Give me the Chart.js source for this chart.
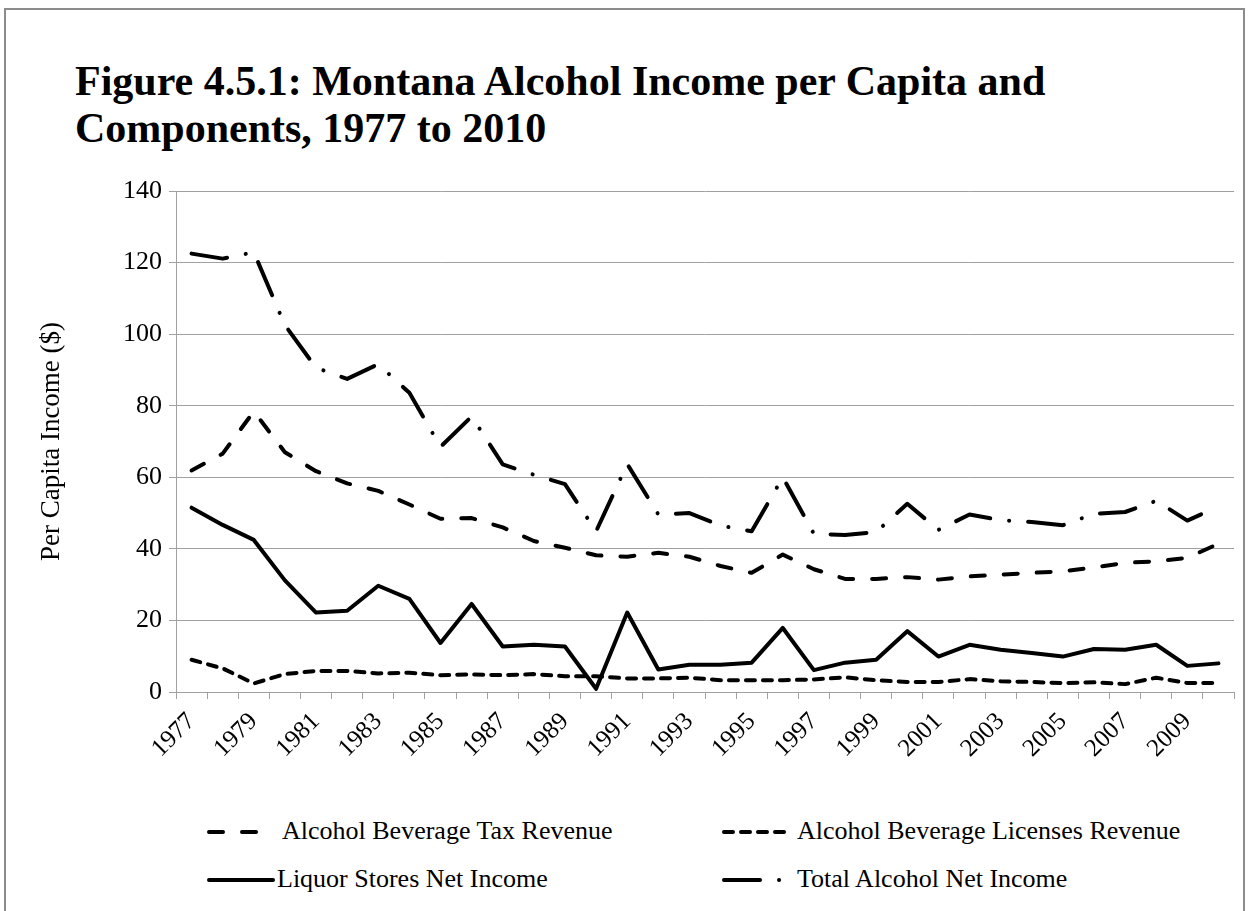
<!DOCTYPE html>
<html>
<head>
<meta charset="utf-8">
<script src="https://cdn.jsdelivr.net/npm/chart.js@4.4.1/dist/chart.umd.min.js"></script>
<style>
  body { margin: 0; background: #fff; font-family: 'Liberation Serif', 'Times New Roman', serif; }
  #wrap { position: relative; width: 1253px; height: 911px; overflow: hidden; }
  #frame { position: absolute; left: 4px; top: 8px; width: 1241px; height: 940px; border: 2px solid #8c8c8c; box-sizing: border-box; }
  #titulo { position: absolute; left: 75px; top: 58px; margin: 0; font-size: 42px; line-height: 47px; font-weight: bold; color: #000; }
  #grafico { position: absolute; left: 0; top: 0; }
  .leg { position: absolute; font-size: 26px; color: #000; white-space: nowrap; }
  .leg svg { position: absolute; top: 0; }
  .leg span { position: absolute; top: -16px; }
</style>
</head>
<body>
<div id="wrap">
  <div id="frame"></div>
  <h1 id="titulo">Figure 4.5.1: Montana Alcohol Income per Capita and<br>Components, 1977 to 2010</h1>
  <canvas id="grafico" width="1253" height="800"></canvas>
  <div id="legenda"></div>
</div>
<script>
const anos = [1977, 1978, 1979, 1980, 1981, 1982, 1983, 1984, 1985, 1986, 1987, 1988,
  1989, 1990, 1991, 1992, 1993, 1994, 1995, 1996, 1997, 1998, 1999, 2000, 2001, 2002,
  2003, 2004, 2005, 2006, 2007, 2008, 2009, 2010];

const taxRevenue = [61.9, 66.6, 78.4, 67.0, 61.7, 58.3, 56.2, 52.4, 48.4, 48.6, 46.0, 42.2,
  40.3, 38.2, 37.8, 38.9, 37.8, 35.2, 33.3, 38.4, 34.3, 31.6, 31.6, 32.1, 31.4, 32.3,
  32.8, 33.3, 33.7, 34.8, 36.1, 36.5, 37.5, 41.4];

const licensesRevenue = [9.0, 6.6, 2.4, 5.0, 5.9, 5.9, 5.2, 5.4, 4.7, 4.9, 4.7, 5.0,
  4.4, 4.4, 3.8, 3.8, 4.0, 3.3, 3.3, 3.3, 3.5, 4.1, 3.3, 2.8, 2.8, 3.6,
  3.0, 2.8, 2.5, 2.7, 2.2, 4.0, 2.5, 2.5];

const liquorStores = [51.5, 46.7, 42.5, 31.2, 22.2, 22.7, 29.7, 26.0, 13.7, 24.6, 12.7, 13.2,
  12.7, 0.9, 22.2, 6.3, 7.6, 7.6, 8.2, 17.9, 6.1, 8.2, 9.0, 17.0, 9.9, 13.2,
  11.8, 10.9, 9.9, 12.0, 11.8, 13.2, 7.3, 8.0];

const totalIncome = [122.5, 121.1, 122.9, 102.5, 90.6, 87.5, 91.6, 83.6, 68.5, 77.0, 63.6, 60.7,
  58.1, 44.9, 63.7, 49.6, 50.0, 46.5, 44.9, 60.0, 44.2, 43.9, 44.7, 52.6, 45.3, 49.6,
  48.0, 47.5, 46.6, 49.8, 50.3, 53.4, 47.9, 51.8];

const yTicks = [0, 20, 40, 60, 80, 100, 120, 140];

const fonte = "'Liberation Serif', 'Times New Roman', serif";
const cinza = '#a0a0a0';

function serie(label, data, dash) {
  return {
    label, data,
    borderColor: '#000',
    borderWidth: 4,
    borderDash: dash,
    borderCapStyle: 'round',
    borderJoinStyle: 'round',
    pointRadius: 0,
    tension: 0,
    fill: false
  };
}

const series = [
  serie('Alcohol Beverage Tax Revenue', taxRevenue, [14, 19]),
  serie('Alcohol Beverage Licenses Revenue', licensesRevenue, [9, 8]),
  serie('Liquor Stores Net Income', liquorStores, []),
  serie('Total Alcohol Net Income', totalIncome, [36, 19, 0.1, 19])
];

const ctx = document.getElementById('grafico').getContext('2d');
window.grafico = new Chart(ctx, {
  type: 'line',
  data: { labels: anos, datasets: series },
  options: {
    responsive: false,
    animation: false,
    layout: { padding: { top: 191, right: 19, left: 0, bottom: 0 } },
    plugins: { legend: { display: false }, tooltip: { enabled: false } },
    scales: {
      x: {
        offset: true,
        grid: { offset: true, drawOnChartArea: false, drawTicks: true, tickLength: 7, color: cinza },
        border: { color: cinza },
        ticks: {
          autoSkip: false, minRotation: 45, maxRotation: 45, padding: 8,
          color: '#000', font: { family: fonte, size: 25 },
          callback: function (v, i) { return i % 2 === 0 ? this.getLabelForValue(v) : ''; }
        },
        afterFit: s => { s.height = 108; }
      },
      y: {
        min: 0, max: 140,
        afterBuildTicks: s => { s.ticks = yTicks.map(v => ({ value: v })); },
        grid: { color: cinza, tickLength: 7 },
        border: { color: cinza },
        ticks: { color: '#000', padding: 7, font: { family: fonte, size: 26 } },
        title: {
          display: true, text: 'Per Capita Income ($)', color: '#000',
          font: { family: fonte, size: 27 }, padding: { top: 36, bottom: 0 }
        },
        afterFit: s => { s.width = 176; }
      }
    }
  }
});

// legenda em duas colunas
const posLegenda = [
  { x: 207, y: 832, w: 55, txt: 282 },
  { x: 722, y: 832, w: 70, txt: 797 },
  { x: 207, y: 880, w: 68, txt: 277 },
  { x: 722, y: 880, w: 60, txt: 797 }
];
const legenda = document.getElementById('legenda');
series.forEach((s, i) => {
  const p = posLegenda[i];
  const div = document.createElement('div');
  div.className = 'leg';
  div.style.left = p.x + 'px';
  div.style.top = p.y + 'px';
  const dash = s.borderDash.length ? s.borderDash.join(' ') : 'none';
  div.innerHTML =
    `<svg width="${p.w + 4}" height="8" style="left:-2px;top:-4px">` +
    `<line x1="4" y1="4" x2="${p.w}" y2="4" stroke="#000" stroke-width="4" stroke-linecap="round" stroke-dasharray="${dash}"/></svg>` +
    `<span style="left:${p.txt - p.x}px">${s.label}</span>`;
  legenda.appendChild(div);
});
</script>
</body>
</html>
